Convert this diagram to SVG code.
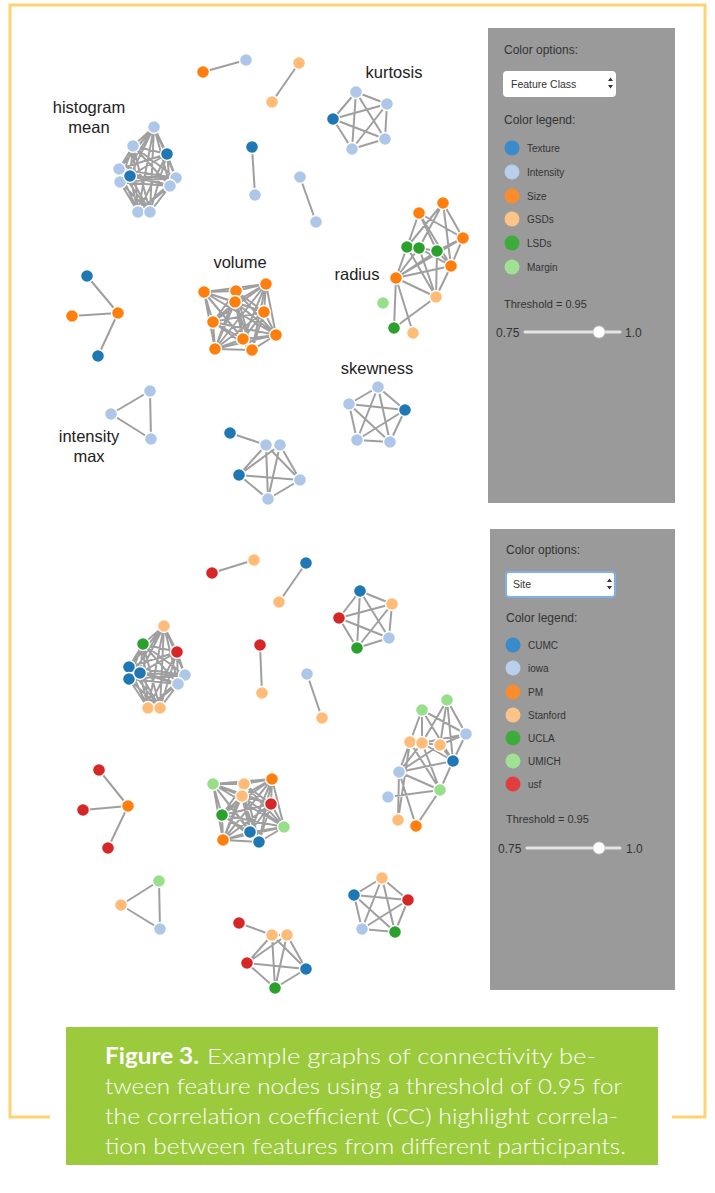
<svg xmlns="http://www.w3.org/2000/svg" width="715" height="1193" viewBox="0 0 715 1193">
<style>
.lbl{font-family:"Liberation Sans",Arial,sans-serif;font-size:16.5px;fill:#222;text-anchor:middle}
.ui{font-family:"Liberation Sans",Arial,sans-serif;fill:#333}
.h{font-size:12px}
.s{font-size:10px}
.n circle{stroke:#fff;stroke-width:1.4}
.e{fill:none;stroke:#8e8e8e;stroke-width:2;stroke-opacity:0.85}
.db{fill:#1f77b4}.lb{fill:#aec7e8}.or{fill:#ff7f0e}.lo{fill:#ffbb78}.gr{fill:#2ca02c}.lg{fill:#98df8a}.rd{fill:#d62728}
.panel{fill:#9a9a9a}
.cap{font-family:Lato,"Open Sans",sans-serif;font-size:22px;fill:#fff;font-weight:300}
</style>
<path d="M50 1117H10V5H705V1117H672" fill="none" stroke="#fcd473" stroke-width="3"/>
<rect x="66" y="1027" width="592" height="138" fill="#9bca3c"/>
<text class="cap" x="105" y="1064" style="font-weight:bold" textLength="94" lengthAdjust="spacingAndGlyphs">Figure 3.</text>
<text class="cap" x="207" y="1064" textLength="389" lengthAdjust="spacingAndGlyphs">Example graphs of connectivity be-</text>
<text class="cap" x="105" y="1094" textLength="517" lengthAdjust="spacingAndGlyphs">tween feature nodes using a threshold of 0.95 for</text>
<text class="cap" x="105" y="1124" textLength="513" lengthAdjust="spacingAndGlyphs">the correlation coefficient (CC) highlight correla-</text>
<text class="cap" x="105" y="1154" textLength="521" lengthAdjust="spacingAndGlyphs">tion between features from different participants.</text>

<!-- side panels -->
<g id="panel-top">
<rect class="panel" x="488" y="28" width="187" height="475"/>
<text class="ui h" x="504" y="54">Color options:</text>
<rect x="503" y="71" width="113" height="26" rx="4" fill="#fff"/>
<text class="ui" x="511" y="88" font-size="10.5">Feature Class</text>
<path d="M608 81l2.5-3.5 2.5 3.5zM608 85l2.5 3.5 2.5-3.5z" fill="#333"/>
<text class="ui h" x="504" y="124">Color legend:</text>
<circle cx="512" cy="148" r="7.5" fill="#3a8bcb"/><text class="ui s" x="527" y="151.5">Texture</text>
<circle cx="512" cy="172" r="7.5" fill="#b9cfeb"/><text class="ui s" x="527" y="175.5">Intensity</text>
<circle cx="512" cy="196" r="7.5" fill="#fa8c2c"/><text class="ui s" x="527" y="199.5">Size</text>
<circle cx="512" cy="219" r="7.5" fill="#fdc488"/><text class="ui s" x="527" y="222.5">GSDs</text>
<circle cx="512" cy="243" r="7.5" fill="#3dac3d"/><text class="ui s" x="527" y="246.5">LSDs</text>
<circle cx="512" cy="267" r="7.5" fill="#a0e194"/><text class="ui s" x="527" y="270.5">Margin</text>
<text class="ui" x="504" y="308" font-size="11">Threshold = 0.95</text>
<text class="ui h" x="496" y="337">0.75</text>
<line x1="525" y1="332" x2="620" y2="332" stroke="#e4e4e4" stroke-width="3" stroke-linecap="round"/>
<circle cx="599" cy="332" r="6" fill="#fff" stroke="#ccc" stroke-width="0.8"/>
<text class="ui h" x="625" y="337">1.0</text>
</g>
<g id="panel-bottom">
<rect class="panel" x="490" y="529" width="185" height="461"/>
<text class="ui h" x="506" y="554">Color options:</text>
<rect x="506" y="572" width="109" height="25" rx="3" fill="#fff" stroke="#7fb0e6" stroke-width="2"/>
<text class="ui" x="513" y="588" font-size="10.5">Site</text>
<path d="M607 582l2.5-3.5 2.5 3.5zM607 586l2.5 3.5 2.5-3.5z" fill="#333"/>
<text class="ui h" x="506" y="622">Color legend:</text>
<circle cx="513" cy="645" r="7.5" fill="#3a8bcb"/><text class="ui s" x="528" y="648.5">CUMC</text>
<circle cx="513" cy="668" r="7.5" fill="#b9cfeb"/><text class="ui s" x="528" y="671.5">iowa</text>
<circle cx="513" cy="692" r="7.5" fill="#fa8c2c"/><text class="ui s" x="528" y="695.5">PM</text>
<circle cx="513" cy="715" r="7.5" fill="#fdc488"/><text class="ui s" x="528" y="718.5">Stanford</text>
<circle cx="513" cy="738" r="7.5" fill="#3dac3d"/><text class="ui s" x="528" y="741.5">UCLA</text>
<circle cx="513" cy="761" r="7.5" fill="#a0e194"/><text class="ui s" x="528" y="764.5">UMICH</text>
<circle cx="513" cy="784" r="7.5" fill="#e03e3e"/><text class="ui s" x="528" y="787.5">usf</text>
<text class="ui" x="506" y="823" font-size="11">Threshold = 0.95</text>
<text class="ui h" x="498" y="853">0.75</text>
<line x1="527" y1="848" x2="620" y2="848" stroke="#e4e4e4" stroke-width="3" stroke-linecap="round"/>
<circle cx="599" cy="848" r="6" fill="#fff" stroke="#ccc" stroke-width="0.8"/>
<text class="ui h" x="626" y="853">1.0</text>
</g>

<!-- cluster labels -->
<g id="labels">
<text class="lbl" x="394" y="78">kurtosis</text>
<text class="lbl" x="89" y="113">histogram</text>
<text class="lbl" x="89" y="133">mean</text>
<text class="lbl" x="240" y="268">volume</text>
<text class="lbl" x="357" y="280">radius</text>
<text class="lbl" x="377" y="374">skewness</text>
<text class="lbl" x="89" y="442">intensity</text>
<text class="lbl" x="89" y="462">max</text>
</g>

<g id="connectors">
<path class="e" d="M203 72L246 60M299 63L272 102M252 147L255 195M300 177L316 222M118 313L87 276M118 313L72 316M118 313L98 356M150 391L111 414M111 414L151 439M151 439L150 391"/>
<path class="e" d="M356 92L387 104M356 92L333 119M356 92L385 139M356 92L352 149M387 104L333 119M387 104L385 139M387 104L352 149M333 119L385 139M333 119L352 149M385 139L352 149"/>
<path class="e" d="M378 387L349 404M378 387L405 410M378 387L357 440M378 387L390 442M349 404L405 410M349 404L357 440M349 404L390 442M405 410L357 440M405 410L390 442M357 440L390 442"/>
<path class="e" d="M230 433L266 445M266 445L280 445M266 445L239 475M266 445L300 480M266 445L268 499M280 445L239 475M280 445L300 480M280 445L268 499M239 475L300 480M239 475L268 499M300 480L268 499"/>
<path class="e" d="M154 127L133 146M154 127L167 154M154 127L119 169M154 127L130 176M154 127L120 182M154 127L176 178M154 127L170 186M154 127L138 212M154 127L150 212M133 146L167 154M133 146L119 169M133 146L130 176M133 146L120 182M133 146L176 178M133 146L170 186M133 146L138 212M133 146L150 212M167 154L119 169M167 154L130 176M167 154L120 182M167 154L176 178M167 154L170 186M167 154L138 212M167 154L150 212M119 169L130 176M119 169L120 182M119 169L176 178M119 169L170 186M119 169L138 212M119 169L150 212M130 176L120 182M130 176L176 178M130 176L170 186M130 176L138 212M130 176L150 212M120 182L176 178M120 182L170 186M120 182L138 212M120 182L150 212M176 178L170 186M176 178L138 212M176 178L150 212M170 186L138 212M170 186L150 212M138 212L150 212"/>
<path class="e" d="M204 292L236 291M204 292L266 284M204 292L235 302M204 292L264 312M204 292L213 322M204 292L276 335M204 292L243 339M204 292L215 349M204 292L252 350M236 291L266 284M236 291L235 302M236 291L264 312M236 291L213 322M236 291L276 335M236 291L243 339M236 291L215 349M236 291L252 350M266 284L235 302M266 284L264 312M266 284L213 322M266 284L276 335M266 284L243 339M266 284L215 349M266 284L252 350M235 302L264 312M235 302L213 322M235 302L276 335M235 302L243 339M235 302L215 349M235 302L252 350M264 312L213 322M264 312L276 335M264 312L243 339M264 312L215 349M264 312L252 350M213 322L276 335M213 322L243 339M213 322L215 349M213 322L252 350M276 335L243 339M276 335L215 349M276 335L252 350M243 339L215 349M243 339L252 350M215 349L252 350"/>
<path class="e" d="M419 213L463 238M419 213L407 247M419 213L437 251M419 213L451 266M443 203L463 238M443 203L419 248M443 203L451 266M443 203L407 247M463 238L437 251M463 238L451 266M463 238L396 278M407 247L396 278M419 248L396 278M437 251L396 278M451 266L396 278M407 247L436 297M419 248L436 297M437 251L436 297M451 266L436 297M396 278L436 297M396 278L394 328M396 278L413 333M436 297L394 328M419 248L451 266M437 251L451 266M407 247L419 248M419 248L437 251"/>
<path class="e" d="M212 573L254 560M306 563L279 602M260 645L262 693M307 674L322 718M128 806L99 770M128 806L83 810M128 806L108 848M159 881L121 905M121 905L160 929M160 929L159 881"/>
<path class="e" d="M360 591L392 604M360 591L339 618M360 591L389 638M360 591L357 648M392 604L339 618M392 604L389 638M392 604L357 648M339 618L389 638M339 618L357 648M389 638L357 648"/>
<path class="e" d="M382 878L354 895M382 878L408 900M382 878L362 929M382 878L395 932M354 895L408 900M354 895L362 929M354 895L395 932M408 900L362 929M408 900L395 932M362 929L395 932"/>
<path class="e" d="M239 923L272 935M272 935L287 935M272 935L247 963M272 935L306 969M272 935L275 988M287 935L247 963M287 935L306 969M287 935L275 988M247 963L306 969M247 963L275 988M306 969L275 988"/>
<path class="e" d="M164 626L143 644M164 626L177 652M164 626L129 667M164 626L140 673M164 626L129 679M164 626L185 675M164 626L178 684M164 626L148 708M164 626L160 708M143 644L177 652M143 644L129 667M143 644L140 673M143 644L129 679M143 644L185 675M143 644L178 684M143 644L148 708M143 644L160 708M177 652L129 667M177 652L140 673M177 652L129 679M177 652L185 675M177 652L178 684M177 652L148 708M177 652L160 708M129 667L140 673M129 667L129 679M129 667L185 675M129 667L178 684M129 667L148 708M129 667L160 708M140 673L129 679M140 673L185 675M140 673L178 684M140 673L148 708M140 673L160 708M129 679L185 675M129 679L178 684M129 679L148 708M129 679L160 708M185 675L178 684M185 675L148 708M185 675L160 708M178 684L148 708M178 684L160 708M148 708L160 708"/>
<path class="e" d="M213 784L244 784M213 784L272 779M213 784L242 796M213 784L271 804M213 784L222 815M213 784L284 827M213 784L250 832M213 784L223 840M213 784L259 842M244 784L272 779M244 784L242 796M244 784L271 804M244 784L222 815M244 784L284 827M244 784L250 832M244 784L223 840M244 784L259 842M272 779L242 796M272 779L271 804M272 779L222 815M272 779L284 827M272 779L250 832M272 779L223 840M272 779L259 842M242 796L271 804M242 796L222 815M242 796L284 827M242 796L250 832M242 796L223 840M242 796L259 842M271 804L222 815M271 804L284 827M271 804L250 832M271 804L223 840M271 804L259 842M222 815L284 827M222 815L250 832M222 815L223 840M222 815L259 842M284 827L250 832M284 827L223 840M284 827L259 842M250 832L223 840M250 832L259 842M223 840L259 842"/>
<path class="e" d="M422 710L410 742M422 710L422 743M422 710L466 734M422 710L453 761M447 700L466 734M447 700L422 743M447 700L453 761M447 700L440 745M466 734L422 743M466 734L440 745M466 734L453 761M410 742L399 772M422 743L399 772M440 745L399 772M453 761L399 772M440 745L453 761M422 743L440 790M410 742L440 790M399 772L440 790M453 761L440 790M422 743L453 761M399 772L416 826M440 790L416 826M388 797L440 790M399 772L398 820M410 742L398 820M410 742L422 743M422 743L440 745"/>
</g>

<g id="nodes" class="n">
<g id="t1"><circle class="or" cx="203" cy="72" r="6.5"/></g>
<g id="t2"><circle class="lb" cx="246" cy="60" r="6.5"/></g>
<g id="t3"><circle class="lo" cx="299" cy="63" r="6.5"/></g>
<g id="t4"><circle class="lo" cx="272" cy="102" r="6.5"/></g>
<g id="t5"><circle class="db" cx="252" cy="147" r="6.5"/></g>
<g id="t6"><circle class="lb" cx="255" cy="195" r="6.5"/></g>
<g id="t7"><circle class="lb" cx="300" cy="177" r="6.5"/></g>
<g id="t8"><circle class="lb" cx="316" cy="222" r="6.5"/></g>
<g id="tk1"><circle class="lb" cx="356" cy="92" r="6.5"/></g>
<g id="tk2"><circle class="lb" cx="387" cy="104" r="6.5"/></g>
<g id="tk3"><circle class="db" cx="333" cy="119" r="6.5"/></g>
<g id="tk4"><circle class="lb" cx="385" cy="139" r="6.5"/></g>
<g id="tk5"><circle class="lb" cx="352" cy="149" r="6.5"/></g>
<g id="th1"><circle class="lb" cx="154" cy="127" r="6.5"/></g>
<g id="th2"><circle class="lb" cx="133" cy="146" r="6.5"/></g>
<g id="th3"><circle class="db" cx="167" cy="154" r="6.5"/></g>
<g id="th4"><circle class="lb" cx="119" cy="169" r="6.5"/></g>
<g id="th6"><circle class="lb" cx="120" cy="182" r="6.5"/></g>
<g id="th5"><circle class="db" cx="130" cy="176" r="6.5"/></g>
<g id="th7"><circle class="lb" cx="176" cy="178" r="6.5"/></g>
<g id="th8"><circle class="lb" cx="170" cy="186" r="6.5"/></g>
<g id="th9"><circle class="lb" cx="138" cy="212" r="6.5"/></g>
<g id="th10"><circle class="lb" cx="150" cy="212" r="6.5"/></g>
<g id="ts1"><circle class="db" cx="87" cy="276" r="6.5"/></g>
<g id="ts2"><circle class="or" cx="72" cy="316" r="6.5"/></g>
<g id="ts3"><circle class="or" cx="118" cy="313" r="6.5"/></g>
<g id="ts4"><circle class="db" cx="98" cy="356" r="6.5"/></g>
<g id="tv1"><circle class="or" cx="204" cy="292" r="6.5"/></g>
<g id="tv2"><circle class="or" cx="236" cy="291" r="6.5"/></g>
<g id="tv3"><circle class="or" cx="266" cy="284" r="6.5"/></g>
<g id="tv4"><circle class="or" cx="235" cy="302" r="6.5"/></g>
<g id="tv5"><circle class="or" cx="264" cy="312" r="6.5"/></g>
<g id="tv6"><circle class="or" cx="213" cy="322" r="6.5"/></g>
<g id="tv7"><circle class="or" cx="276" cy="335" r="6.5"/></g>
<g id="tv8"><circle class="or" cx="243" cy="339" r="6.5"/></g>
<g id="tv9"><circle class="or" cx="215" cy="349" r="6.5"/></g>
<g id="tv10"><circle class="or" cx="252" cy="350" r="6.5"/></g>
<g id="tr1"><circle class="or" cx="419" cy="213" r="6.5"/></g>
<g id="tr2"><circle class="or" cx="443" cy="203" r="6.5"/></g>
<g id="tr3"><circle class="or" cx="463" cy="238" r="6.5"/></g>
<g id="tr4"><circle class="gr" cx="407" cy="247" r="6.5"/></g>
<g id="tr5"><circle class="gr" cx="419" cy="248" r="6.5"/></g>
<g id="tr6"><circle class="gr" cx="437" cy="251" r="6.5"/></g>
<g id="tr7"><circle class="or" cx="451" cy="266" r="6.5"/></g>
<g id="tr8"><circle class="or" cx="396" cy="278" r="6.5"/></g>
<g id="tr9"><circle class="lo" cx="436" cy="297" r="6.5"/></g>
<g id="tr10"><circle class="lg" cx="383" cy="303" r="6.5"/></g>
<g id="tr11"><circle class="gr" cx="394" cy="328" r="6.5"/></g>
<g id="tr12"><circle class="lo" cx="413" cy="333" r="6.5"/></g>
<g id="ti1"><circle class="lb" cx="150" cy="391" r="6.5"/></g>
<g id="ti2"><circle class="lb" cx="111" cy="414" r="6.5"/></g>
<g id="ti3"><circle class="lb" cx="151" cy="439" r="6.5"/></g>
<g id="tw1"><circle class="lb" cx="378" cy="387" r="6.5"/></g>
<g id="tw2"><circle class="lb" cx="349" cy="404" r="6.5"/></g>
<g id="tw3"><circle class="db" cx="405" cy="410" r="6.5"/></g>
<g id="tw4"><circle class="lb" cx="357" cy="440" r="6.5"/></g>
<g id="tw5"><circle class="lb" cx="390" cy="442" r="6.5"/></g>
<g id="tb1"><circle class="db" cx="230" cy="433" r="6.5"/></g>
<g id="tb2"><circle class="lb" cx="266" cy="445" r="6.5"/></g>
<g id="tb3"><circle class="lb" cx="280" cy="445" r="6.5"/></g>
<g id="tb4"><circle class="db" cx="239" cy="475" r="6.5"/></g>
<g id="tb5"><circle class="lb" cx="300" cy="480" r="6.5"/></g>
<g id="tb6"><circle class="lb" cx="268" cy="499" r="6.5"/></g>
<g id="u1"><circle class="rd" cx="212" cy="573" r="6.5"/></g>
<g id="u2"><circle class="lo" cx="254" cy="560" r="6.5"/></g>
<g id="u3"><circle class="db" cx="306" cy="563" r="6.5"/></g>
<g id="u4"><circle class="lo" cx="279" cy="602" r="6.5"/></g>
<g id="u5"><circle class="rd" cx="260" cy="645" r="6.5"/></g>
<g id="u6"><circle class="lo" cx="262" cy="693" r="6.5"/></g>
<g id="u7"><circle class="lb" cx="307" cy="674" r="6.5"/></g>
<g id="u8"><circle class="lo" cx="322" cy="718" r="6.5"/></g>
<g id="up1"><circle class="db" cx="360" cy="591" r="6.5"/></g>
<g id="up2"><circle class="lo" cx="392" cy="604" r="6.5"/></g>
<g id="up3"><circle class="rd" cx="339" cy="618" r="6.5"/></g>
<g id="up4"><circle class="lb" cx="389" cy="638" r="6.5"/></g>
<g id="up5"><circle class="gr" cx="357" cy="648" r="6.5"/></g>
<g id="uh1"><circle class="lo" cx="164" cy="626" r="6.5"/></g>
<g id="uh2"><circle class="gr" cx="143" cy="644" r="6.5"/></g>
<g id="uh3"><circle class="rd" cx="177" cy="652" r="6.5"/></g>
<g id="uh4"><circle class="db" cx="129" cy="667" r="6.5"/></g>
<g id="uh6"><circle class="db" cx="129" cy="679" r="6.5"/></g>
<g id="uh5"><circle class="db" cx="140" cy="673" r="6.5"/></g>
<g id="uh7"><circle class="lb" cx="185" cy="675" r="6.5"/></g>
<g id="uh8"><circle class="lb" cx="178" cy="684" r="6.5"/></g>
<g id="uh9"><circle class="lo" cx="148" cy="708" r="6.5"/></g>
<g id="uh10"><circle class="lo" cx="160" cy="708" r="6.5"/></g>
<g id="ur1"><circle class="lg" cx="422" cy="710" r="6.5"/></g>
<g id="ur2"><circle class="lg" cx="447" cy="700" r="6.5"/></g>
<g id="ur3"><circle class="lb" cx="466" cy="734" r="6.5"/></g>
<g id="ur4"><circle class="lo" cx="410" cy="742" r="6.5"/></g>
<g id="ur5"><circle class="lo" cx="422" cy="743" r="6.5"/></g>
<g id="ur6"><circle class="lo" cx="440" cy="745" r="6.5"/></g>
<g id="ur7"><circle class="db" cx="453" cy="761" r="6.5"/></g>
<g id="ur8"><circle class="lb" cx="399" cy="772" r="6.5"/></g>
<g id="ur9"><circle class="lg" cx="440" cy="790" r="6.5"/></g>
<g id="ur10"><circle class="lb" cx="388" cy="797" r="6.5"/></g>
<g id="ur11"><circle class="lo" cx="398" cy="820" r="6.5"/></g>
<g id="ur12"><circle class="or" cx="416" cy="826" r="6.5"/></g>
<g id="us1"><circle class="rd" cx="99" cy="770" r="6.5"/></g>
<g id="us2"><circle class="rd" cx="83" cy="810" r="6.5"/></g>
<g id="us3"><circle class="or" cx="128" cy="806" r="6.5"/></g>
<g id="us4"><circle class="rd" cx="108" cy="848" r="6.5"/></g>
<g id="uv1"><circle class="lg" cx="213" cy="784" r="6.5"/></g>
<g id="uv2"><circle class="lo" cx="244" cy="784" r="6.5"/></g>
<g id="uv3"><circle class="or" cx="272" cy="779" r="6.5"/></g>
<g id="uv4"><circle class="lo" cx="242" cy="796" r="6.5"/></g>
<g id="uv5"><circle class="rd" cx="271" cy="804" r="6.5"/></g>
<g id="uv6"><circle class="gr" cx="222" cy="815" r="6.5"/></g>
<g id="uv7"><circle class="lg" cx="284" cy="827" r="6.5"/></g>
<g id="uv8"><circle class="db" cx="250" cy="832" r="6.5"/></g>
<g id="uv9"><circle class="or" cx="223" cy="840" r="6.5"/></g>
<g id="uv10"><circle class="db" cx="259" cy="842" r="6.5"/></g>
<g id="ui1"><circle class="lg" cx="159" cy="881" r="6.5"/></g>
<g id="ui2"><circle class="lo" cx="121" cy="905" r="6.5"/></g>
<g id="ui3"><circle class="lb" cx="160" cy="929" r="6.5"/></g>
<g id="uq1"><circle class="lo" cx="382" cy="878" r="6.5"/></g>
<g id="uq2"><circle class="db" cx="354" cy="895" r="6.5"/></g>
<g id="uq3"><circle class="rd" cx="408" cy="900" r="6.5"/></g>
<g id="uq4"><circle class="lb" cx="362" cy="929" r="6.5"/></g>
<g id="uq5"><circle class="gr" cx="395" cy="932" r="6.5"/></g>
<g id="ub1"><circle class="rd" cx="239" cy="923" r="6.5"/></g>
<g id="ub2"><circle class="lo" cx="272" cy="935" r="6.5"/></g>
<g id="ub3"><circle class="lo" cx="287" cy="935" r="6.5"/></g>
<g id="ub4"><circle class="rd" cx="247" cy="963" r="6.5"/></g>
<g id="ub5"><circle class="db" cx="306" cy="969" r="6.5"/></g>
<g id="ub6"><circle class="gr" cx="275" cy="988" r="6.5"/></g>
</g>
</svg>
